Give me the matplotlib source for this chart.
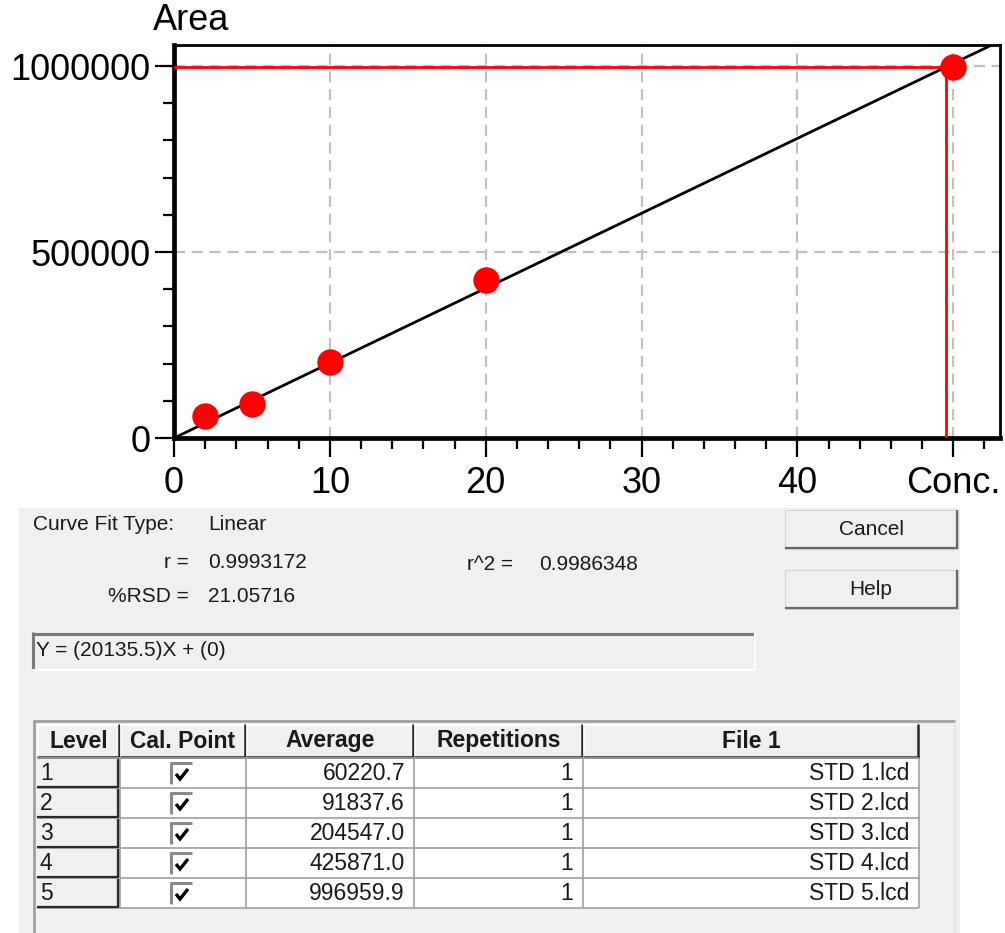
import numpy as np
import matplotlib.pyplot as plt
from matplotlib.patches import Rectangle

plt.rcParams['font.family'] = ['Liberation Sans', 'DejaVu Sans']

# calibration levels
levels = [1, 2, 3, 4, 5]
conc = [2, 5, 10, 20, 50]
average = [60220.7, 91837.6, 204547.0, 425871.0, 996959.9]
repetitions = [1, 1, 1, 1, 1]
files = ['STD 1.lcd', 'STD 2.lcd', 'STD 3.lcd', 'STD 4.lcd', 'STD 5.lcd']

# fit results
fit_type = 'Linear'
slope = 20135.5
intercept = 0
r_text = '0.9993172'
r2_text = '0.9986348'
rsd_text = '21.05716'

x_ticks = [0, 10, 20, 30, 40, 50]
x_ticklabels = ['0', '10', '20', '30', '40', 'Conc.']
y_ticks = [0, 500000, 1000000]
y_ticklabels = ['0', '500000', '1000000']

columns = ['Level', 'Cal. Point', 'Average', 'Repetitions', 'File 1']
col_edges = [37, 120, 246, 414, 583, 919]

W, H = 1005, 933
fig = plt.figure(figsize=(W / 100, H / 100), dpi=100)

# ---- dialog panel, drawn in pixel units ----
pan = fig.add_axes([0, 0, 1, 1])
pan.set_xlim(0, W)
pan.set_ylim(H, 0)
pan.axis('off')

BG = '#f0f0f0'
DARK = '#696969'
GRID = '#a0a0a0'


def rect(x0, y0, x1, y1, fc, ec='none', lw=0):
    pan.add_patch(Rectangle((x0, y0), x1 - x0, y1 - y0, facecolor=fc,
                            edgecolor=ec, linewidth=lw))


def hline(y, x0, x1, c, lw=0.8):
    pan.plot([x0, x1], [y, y], color=c, lw=lw, solid_capstyle='butt')


def vline(x, y0, y1, c, lw=0.8):
    pan.plot([x, x], [y0, y1], color=c, lw=lw, solid_capstyle='butt')


def label(x, y, s, ha='left', size=15, weight='normal'):
    pan.text(x, y, s, ha=ha, va='center', fontsize=size, fontweight=weight,
             color='#1a1a1a')


rect(19, 508, 960, H, BG)

# fit summary
label(33, 525, 'Curve Fit Type:')
label(208, 525, fit_type)
label(189, 562, 'r =', ha='right')
label(208, 562, r_text)
label(189, 597, '%RSD =', ha='right')
label(208, 597, rsd_text)
label(467, 564, 'r^2 =')
label(539, 564, r2_text)

# buttons
for y0, y1, name in [(510, 549, 'Cancel'), (570, 609, 'Help')]:
    rect(785, y0, 958, y1, BG, ec='#d4d4d4', lw=0.8)
    hline(y1 - 1, 785, 958, DARK, 1.6)
    vline(957, y0, y1, DARK, 1.6)
    label(871, (y0 + y1) / 2, name, ha='center')

# equation box
rect(32, 632, 755, 670, BG)
hline(633.5, 32, 755, '#7a7a7a', 2.2)
vline(33, 632, 670, '#7a7a7a', 2.2)
hline(669.5, 32, 755, 'white', 1.4)
vline(754.5, 632, 670, 'white', 1.4)
label(36, 651, 'Y = (%s)X + (%g)' % (slope, intercept))

# level table
rect(33, 720, 955, H, BG)
hline(721, 33, 955, GRID, 2.0)
vline(34, 720, H, GRID, 2.0)
vline(955, 722, H, '#e2e2e2', 1.2)

for i, name in enumerate(columns):
    x0, x1 = col_edges[i], col_edges[i + 1]
    rect(x0, 724, x1, 758, BG)
    hline(724.5, x0, x1, 'white', 1.2)
    vline(x0 + 0.5, 724, 758, 'white', 1.2)
    hline(757, x0, x1, '#2a2a2a', 1.8)
    vline(x1 - 1, 724, 758, '#2a2a2a', 1.8)
    label((x0 + x1) / 2, 741, name, ha='center', size=16.5, weight='bold')

row_h = 30
rows_top = 758
rect(col_edges[1], rows_top, col_edges[-1], rows_top + row_h * len(levels), 'white')
for k in range(len(levels) + 1):
    hline(rows_top + k * row_h, col_edges[0], col_edges[-1], GRID, 1.2)
for x in col_edges[1:]:
    vline(x, rows_top, rows_top + row_h * len(levels), GRID, 1.2)

for k, (lev, avg, rep, fn) in enumerate(zip(levels, average, repetitions, files)):
    top = rows_top + k * row_h
    mid = top + row_h / 2
    # level cell looks like a raised button
    rect(col_edges[0], top + 1, col_edges[1] - 1, top + row_h - 1, BG)
    hline(top + row_h - 1.5, col_edges[0], col_edges[1] - 1, '#2a2a2a', 1.6)
    vline(col_edges[1] - 2, top + 1, top + row_h - 1, '#2a2a2a', 1.6)
    label(40, mid, str(lev), size=16.5)
    # check box
    rect(170, mid - 11, 192, mid + 11, 'white')
    hline(mid - 10, 170, 192, '#8a8a8a', 2.2)
    vline(171, mid - 11, mid + 11, '#8a8a8a', 2.2)
    pan.plot([176, 180, 188], [mid + 1, mid + 6, mid - 4], color='black',
             lw=2.4, solid_capstyle='butt', solid_joinstyle='miter')
    label(405, mid, '%.1f' % avg, ha='right', size=16.5)
    label(573, mid, str(rep), ha='right', size=16.5)
    label(909, mid, fn, ha='right', size=16.5)

# ---- calibration curve ----
ax = fig.add_axes([174 / W, 1 - 438 / H, 826 / W, 393 / H])
ax.set_xlim(0, 53)
ax.set_ylim(0, 1056500)

xx = np.array([0, 53])
ax.plot(xx, slope * xx + intercept, color='black', lw=2.0, zorder=3)

# selected point read back through the fit
x_sel = (average[-1] - intercept) / slope
ax.plot([0, x_sel], [average[-1], average[-1]], color='red', lw=2.0, zorder=4)
ax.plot([x_sel, x_sel], [0, average[-1]], color='red', lw=2.0, zorder=4)

ax.plot(conc, average, 'o', color='red', ms=19, mec='none', zorder=5, clip_on=False)

ax.set_xticks(x_ticks)
ax.set_xticklabels(x_ticklabels)
ax.set_xticks(np.arange(0, 53, 2), minor=True)
ax.set_yticks(y_ticks)
ax.set_yticklabels(y_ticklabels)
ax.set_yticks(np.arange(0, 1000001, 100000), minor=True)

ax.tick_params(which='major', length=14, width=1.6, labelsize=26, pad=3,
               color='black')
ax.tick_params(axis='x', which='major', pad=6)
ax.tick_params(which='minor', length=8, width=1.6)

ax.grid(True, which='major', color='#c0c0c0', ls=(0, (5, 3)), lw=1.6, zorder=1)
ax.set_axisbelow(True)

for side in ['left', 'bottom']:
    ax.spines[side].set_linewidth(3.4)
for side in ['top', 'right']:
    ax.spines[side].set_linewidth(2.0)

fig.text(191 / W, 1 - 21 / H, 'Area', ha='center', va='center', fontsize=26)

fig.savefig('out.png', dpi=100)
